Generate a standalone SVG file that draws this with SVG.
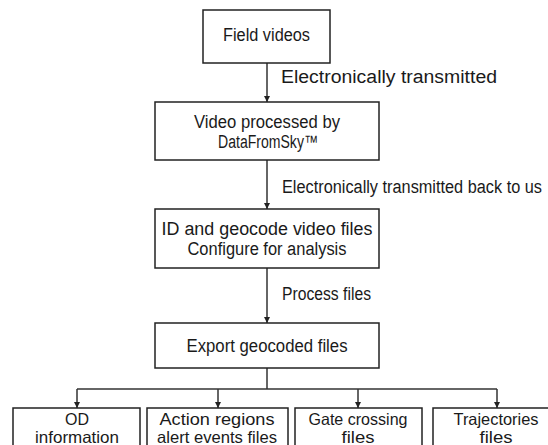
<svg xmlns="http://www.w3.org/2000/svg" width="548" height="445" viewBox="0 0 548 445">
<defs>
<style>
.box{fill:#fff;stroke:#222;stroke-width:1.5}
.t{font-family:"Liberation Sans",Arial,sans-serif;font-size:18px;fill:#1a1a1a}
.s{font-size:16.5px}
.c{text-anchor:middle}
.ln{fill:none;stroke:#333;stroke-width:1.5}
</style>
<marker id="ah" viewBox="0 0 8 8" refX="8" refY="4" markerWidth="6" markerHeight="6" markerUnits="userSpaceOnUse" orient="auto">
<path d="M0,0 L8,4 L0,8 Z" fill="#222"/>
</marker>
</defs>
<rect width="548" height="445" fill="#fff"/>
<g id="connectors">
<path class="ln" d="M267,63 V102" marker-end="url(#ah)"/>
<path class="ln" d="M267,160 V209" marker-end="url(#ah)"/>
<path class="ln" d="M267,268 V323" marker-end="url(#ah)"/>
<path class="ln" d="M267,368 V389"/>
<path class="ln" d="M77,389 H497"/>
<path class="ln" d="M77,389 V408" marker-end="url(#ah)"/>
<path class="ln" d="M218,389 V408" marker-end="url(#ah)"/>
<path class="ln" d="M358,389 V408" marker-end="url(#ah)"/>
<path class="ln" d="M497,389 V408" marker-end="url(#ah)"/>
<text class="t" x="281" y="83" textLength="216" lengthAdjust="spacingAndGlyphs">Electronically transmitted</text>
<text class="t" x="282" y="193" textLength="260" lengthAdjust="spacingAndGlyphs">Electronically transmitted back to us</text>
<text class="t" x="282" y="300" textLength="89" lengthAdjust="spacingAndGlyphs">Process files</text>
</g>
<g id="field-videos">
<rect class="box" x="203" y="10" width="127" height="53"/>
<text class="t c" x="266.5" y="41" textLength="87" lengthAdjust="spacingAndGlyphs">Field videos</text>
</g>
<g id="video-processed">
<rect class="box" x="155" y="102" width="224" height="58"/>
<text class="t c" x="267" y="128" textLength="146" lengthAdjust="spacingAndGlyphs">Video processed by</text>
<text class="t c" x="268" y="148" textLength="100" lengthAdjust="spacingAndGlyphs">DataFromSky™</text>
</g>
<g id="id-geocode">
<rect class="box" x="155" y="209" width="224" height="59"/>
<text class="t c" x="267" y="235" textLength="211" lengthAdjust="spacingAndGlyphs">ID and geocode video files</text>
<text class="t c" x="267" y="255" textLength="159" lengthAdjust="spacingAndGlyphs">Configure for analysis</text>
</g>
<g id="export">
<rect class="box" x="155" y="323" width="224" height="45"/>
<text class="t c" x="267" y="352" textLength="161" lengthAdjust="spacingAndGlyphs">Export geocoded files</text>
</g>
<g id="od-information">
<rect class="box" x="13" y="408" width="127" height="50"/>
<text class="t s c" x="77" y="425" textLength="24" lengthAdjust="spacingAndGlyphs">OD</text>
<text class="t s c" x="77" y="443" textLength="84" lengthAdjust="spacingAndGlyphs">information</text>
</g>
<g id="action-regions">
<rect class="box" x="147" y="408" width="141" height="50"/>
<text class="t s c" x="217" y="425" textLength="115" lengthAdjust="spacingAndGlyphs">Action regions</text>
<text class="t s c" x="217" y="443" textLength="120" lengthAdjust="spacingAndGlyphs">alert events files</text>
</g>
<g id="gate-crossing">
<rect class="box" x="295" y="408" width="127" height="50"/>
<text class="t s c" x="358" y="425" textLength="99" lengthAdjust="spacingAndGlyphs">Gate crossing</text>
<text class="t s c" x="358" y="443" textLength="33" lengthAdjust="spacingAndGlyphs">files</text>
</g>
<g id="trajectories">
<rect class="box" x="433" y="408" width="128" height="50"/>
<text class="t s c" x="496" y="425" textLength="85" lengthAdjust="spacingAndGlyphs">Trajectories</text>
<text class="t s c" x="496" y="443" textLength="33" lengthAdjust="spacingAndGlyphs">files</text>
</g>
</svg>
